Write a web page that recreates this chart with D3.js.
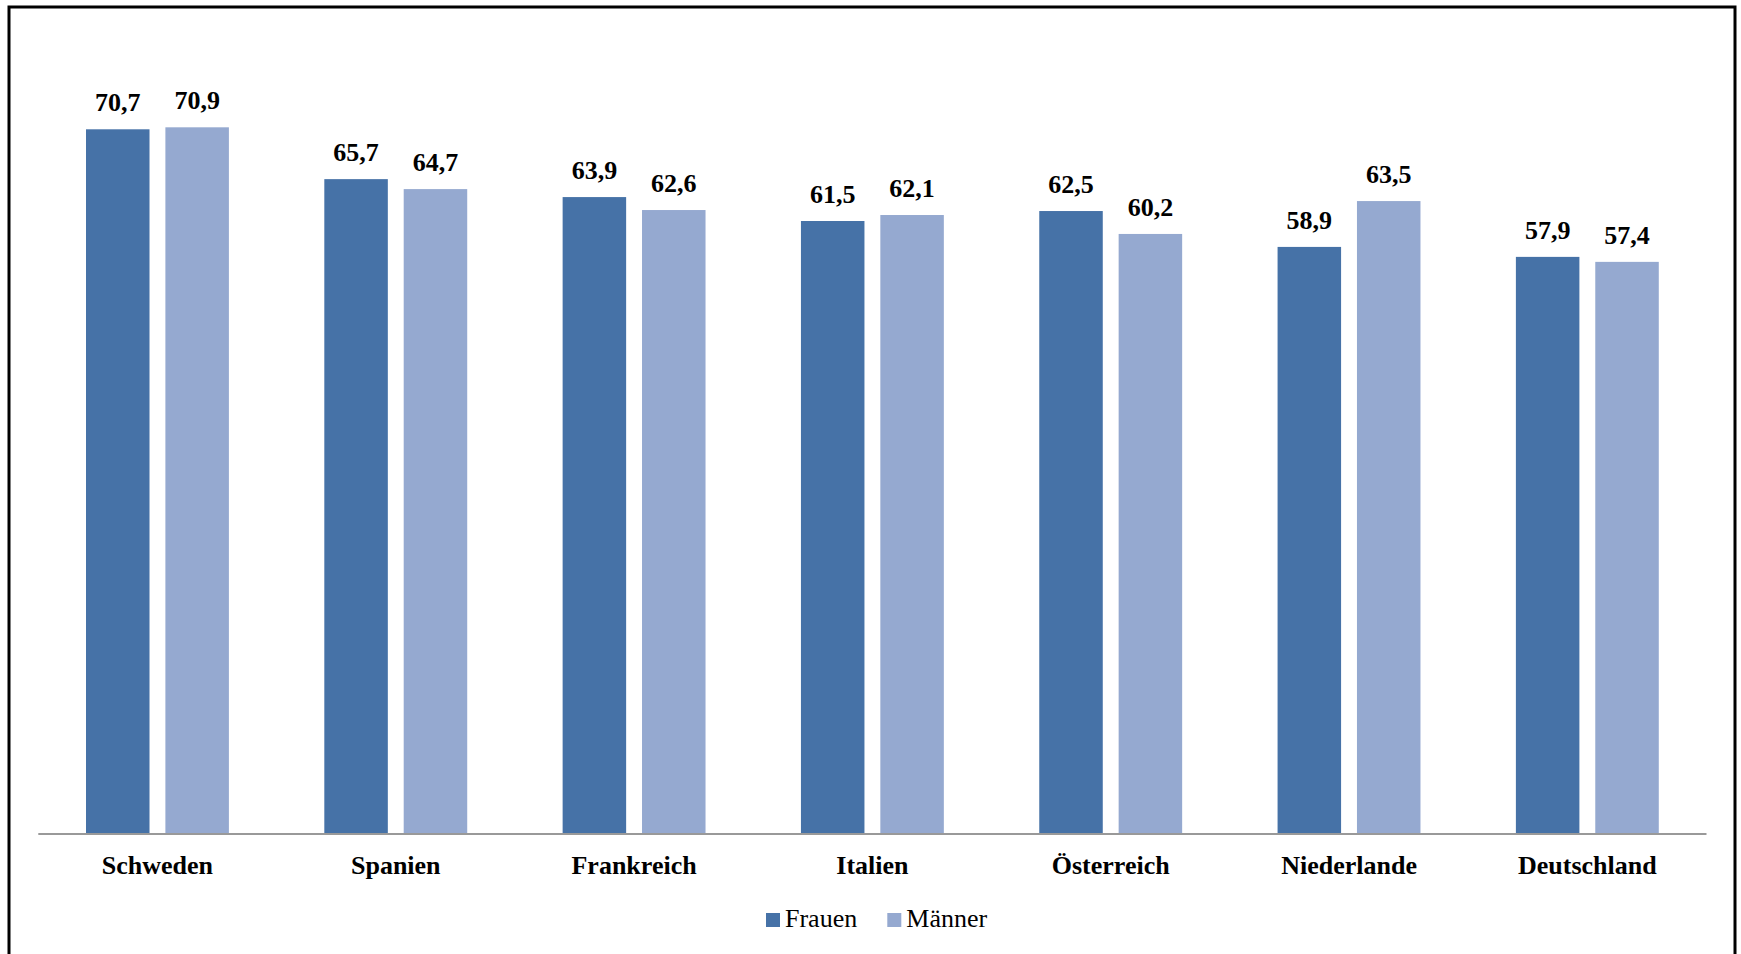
<!DOCTYPE html>
<html>
<head>
<meta charset="utf-8">
<script src="https://cdn.jsdelivr.net/npm/d3@7"></script>
<style>
  html, body { margin: 0; padding: 0; background: #fff; }
  svg { display: block; }
</style>
</head>
<body>
<svg id="chart" width="1741" height="954"></svg>
<script>
const countries = ["Schweden", "Spanien", "Frankreich", "Italien", "Österreich", "Niederlande", "Deutschland"];
const frauen = [70.7, 65.7, 63.9, 61.5, 62.5, 58.9, 57.9];
const maenner = [70.9, 64.7, 62.6, 62.1, 60.2, 63.5, 57.4];
const seriesNames = ["Frauen", "Männer"];
const seriesColors = ["#4672A7", "#95A9D0"];

const svg = d3.select("#chart");

// outer frame (bottom edge runs past the canvas)
svg.append("rect")
  .attr("x", 9).attr("y", 7)
  .attr("width", 1726).attr("height", 980)
  .attr("fill", "#fff")
  .attr("stroke", "#000").attr("stroke-width", 3);

const plot = { left: 38.3, right: 1706.5, top: 36.6, bottom: 834 };

const x = d3.scaleBand()
  .domain(countries)
  .range([plot.left, plot.right])
  .paddingInner(0).paddingOuter(0);

const inner = d3.scaleBand()
  .domain(seriesNames)
  .range([47.7, 238.3 - 47.7])
  .paddingInner(0.2);

const y = d3.scaleLinear().domain([0, 80]).range([plot.bottom, plot.top]);

const rows = countries.map((c, i) => ({ country: c, values: [frauen[i], maenner[i]] }));

const groups = svg.append("g").selectAll("g")
  .data(rows).join("g")
  .attr("transform", d => `translate(${x(d.country)},0)`);

const fmt = v => v.toFixed(1).replace(".", ",");

groups.selectAll("rect")
  .data(d => d.values.map((v, k) => ({ name: seriesNames[k], v, k })))
  .join("rect")
  .attr("x", d => inner(d.name))
  .attr("y", d => y(d.v))
  .attr("width", inner.bandwidth())
  .attr("height", d => y(0) - y(d.v))
  .attr("fill", d => seriesColors[d.k]);

groups.selectAll("text.val")
  .data(d => d.values.map((v, k) => ({ name: seriesNames[k], v, k })))
  .join("text")
  .attr("class", "val")
  .attr("x", d => inner(d.name) + inner.bandwidth() / 2)
  .attr("y", d => y(d.v) - 18)
  .attr("text-anchor", "middle")
  .attr("font-family", "'Liberation Serif', 'Times New Roman', serif")
  .attr("font-weight", "bold")
  .attr("font-size", 26)
  .attr("fill", "#000")
  .text(d => fmt(d.v));

// category axis
const xAxis = svg.append("g")
  .attr("transform", `translate(0,${plot.bottom})`)
  .call(d3.axisBottom(x).tickSize(0).tickPadding(0));
xAxis.select(".domain").attr("stroke", "#999").attr("stroke-width", 2)
  .attr("d", `M${plot.left},0H${plot.right}`);
xAxis.selectAll(".tick text")
  .attr("dy", null)
  .attr("y", 40)
  .attr("font-family", "'Liberation Serif', 'Times New Roman', serif")
  .attr("font-weight", "bold")
  .attr("font-size", 26)
  .attr("fill", "#000");

// legend
const legend = svg.append("g");
const legendX = [766, 887.3];
seriesNames.forEach((name, k) => {
  const g = legend.append("g").attr("transform", `translate(${legendX[k]},0)`);
  g.append("rect").attr("x", 0).attr("y", 913).attr("width", 14).attr("height", 14)
    .attr("fill", seriesColors[k]);
  g.append("text").attr("x", 19).attr("y", 927)
    .attr("font-family", "'Liberation Serif', 'Times New Roman', serif")
    .attr("font-size", 26)
    .attr("fill", "#000")
    .text(name);
});
</script>
</body>
</html>
